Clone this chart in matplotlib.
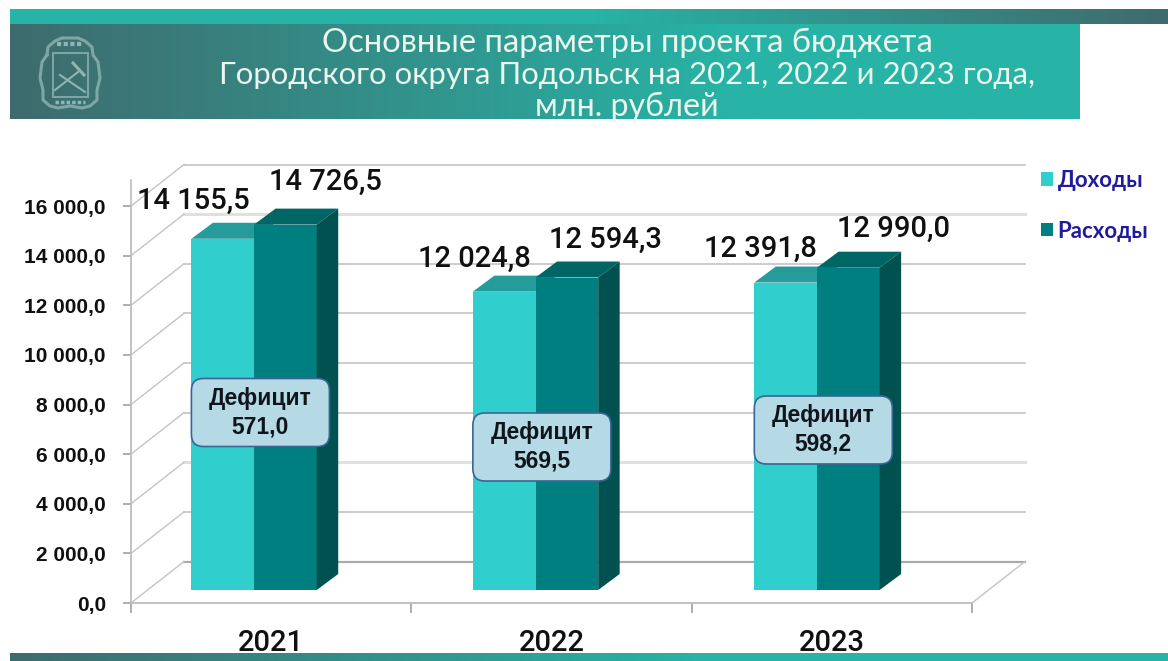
import numpy as np
import matplotlib
matplotlib.use("Agg")
import matplotlib.pyplot as plt
from matplotlib.patches import Polygon, FancyBboxPatch, Rectangle
from matplotlib.colors import LinearSegmentedColormap
from matplotlib.transforms import Affine2D

years = ["2021", "2022", "2023"]
income = [14155.5, 12024.8, 12391.8]
expense = [14726.5, 12594.3, 12990.0]
deficit = [571.0, 569.5, 598.2]
yticks = [0, 2000, 4000, 6000, 8000, 10000, 12000, 14000, 16000]
title_lines = ["Основные параметры проекта бюджета",
               "Городского округа Подольск на 2021, 2022 и 2023 года,",
               "млн. рублей"]

W, H = 1168, 661
fig = plt.figure(figsize=(W/100, H/100), dpi=100, facecolor="white")
bg = fig.add_axes([0, 0, 1, 1], zorder=0)
bg.set_xlim(0, W); bg.set_ylim(H, 0); bg.axis("off")

DARK, TEAL = "#3F6B6D", "#27B4A6"
def band(x0, x1, y0, y1, stops):
    cm = LinearSegmentedColormap.from_list("b", stops)
    bg.imshow(np.linspace(0, 1, 400)[None, :], cmap=cm, extent=(x0, x1, y1, y0), aspect="auto", zorder=1)
band(10, W, 10, 24.5, [(0, TEAL), (0.5, TEAL), (1, DARK)])
band(10, 1080, 24.5, 119.5, [(0, DARK), (0.68, TEAL), (1, TEAL)])
band(10, W, 653, 661, [(0, DARK), (0.6, TEAL), (1, TEAL)])
bg.set_xlim(0, W); bg.set_ylim(H, 0)

for line, y, fs in zip(title_lines, [43, 75, 107], [23.6, 22.4, 23.2]):
    bg.text(627, y, line, ha="center", va="center", fontsize=fs, family="Lato",
            color="#EAF6EE", zorder=3)

# emblem outline
EM = "#8FB5B2"
sx = [47, 42, 40, 43, 43, 50, 58, 70, 82, 90, 97, 97, 100, 98, 93, 92, 85, 78, 62, 55, 48, 47]
sy = [55, 62, 78, 90, 100, 106, 108, 106, 108, 106, 100, 90, 78, 62, 55, 47, 41, 38, 38, 41, 47, 55]
bg.plot(sx, sy, color=EM, lw=2.2, alpha=0.8, zorder=3)
bg.add_patch(Rectangle((53, 53), 35, 44, fc="none", ec=EM, lw=1.4, alpha=0.8, zorder=3))
bg.plot([55, 78], [90, 72], color=EM, lw=1.5, zorder=3)
bg.plot([60, 85], [75, 92], color=EM, lw=1.5, zorder=3)
bg.plot([73, 84], [63, 75], color=EM, lw=2.2, zorder=3)
bg.plot([57, 83], [44, 44], color=EM, lw=3, ls=(0, (1, 0.6)), zorder=3)
bg.plot([55, 85], [102, 102], color=EM, lw=2.5, ls=(0, (1, 0.6)), zorder=3)

ax = fig.add_axes([131/W, 1-603/H, 841/W, 397/H], zorder=1)
ax.patch.set_alpha(0)
ax.set_xlim(0, 3); ax.set_ylim(0, 16000)
PX = 3/841; PY = 16000/397
wall_dx, wall_dy = 53*PX, 41.5*PY
bar_x0, step, bw = 0.2155, 1.004, 0.2235
base = 13*PY
bdx, bdy = 21.5*PX, 16*PY

GRID = "#C4C4C4"
for v in yticks:
    col, lw = GRID, 1.2
    if v in (14000, 4000):
        col, lw = "#E0E0E0", 2.2
    if v == 0:
        col, lw = "#ABABAB", 1.6
    ax.plot([wall_dx, 3+wall_dx], [v+wall_dy, v+wall_dy], color=col, lw=lw, clip_on=False, zorder=1)
    ax.plot([0, wall_dx], [v, v+wall_dy], color=GRID, lw=1.0, clip_on=False, zorder=1)
ax.plot([3, 3+wall_dx], [0, wall_dy], color=GRID, lw=1.0, clip_on=False, zorder=1)
ax.plot([0, 0], [16000, 17050], color="#BDBDBD", lw=1.2, clip_on=False, zorder=1)

C1, C2 = "#30CFCE", "#007F80"
C1top, C2top, C2side = "#259C9B", "#006665", "#005150"
xs = np.arange(3)*step + bar_x0
ax.bar(xs, income, bw, bottom=base, align="edge", color=C1, zorder=3, label="Доходы")
ax.bar(xs+bw, expense, bw, bottom=base, align="edge", color=C2, zorder=4, label="Расходы")
for i in range(3):
    a, b = income[i]+base, expense[i]+base
    x = xs[i]
    ax.add_patch(Polygon([(x, a), (x+bdx, a+bdy), (x+bw+bdx, a+bdy), (x+bw, a)], fc=C1top, ec="none", zorder=3))
    ax.add_patch(Polygon([(x+bw, b), (x+bw+bdx, b+bdy), (x+2*bw+bdx, b+bdy), (x+2*bw, b)], fc=C2top, ec="none", zorder=5))
    ax.add_patch(Polygon([(x+2*bw, base), (x+2*bw+bdx, base+bdy), (x+2*bw+bdx, b+bdy), (x+2*bw, b)], fc=C2side, ec="none", zorder=5))

lab_kw = dict(ha="center", va="center", fontsize=21, family="Roboto", fontweight="medium", color="#101010", zorder=7, clip_on=False)
fmt = lambda v: f"{v:,.1f}".replace(",", " ").replace(".", ",")
inc_off = [(2, 38), (2, 33), (6, 34)]
exp_off = [(134, 43), (133, 38), (139, 39)]
for i in range(3):
    ax.text(xs[i]+inc_off[i][0]*PX, income[i]+base+inc_off[i][1]*PY, fmt(income[i]), **lab_kw)
    ax.text(xs[i]+exp_off[i][0]*PX, expense[i]+base+exp_off[i][1]*PY, fmt(expense[i]), **lab_kw)

# callouts
centers_y = [412.5, 447, 430]
to_data = Affine2D().scale(PX, PY) + ax.transData
for i in range(3):
    xl = xs[i]
    yc = (603 - centers_y[i]) * PY
    p = FancyBboxPatch((xl/PX, yc/PY-34), 138, 68, boxstyle="round,pad=0,rounding_size=12",
                       fc="#B5DAE6", ec="#3A6595", lw=1.2, zorder=8, transform=to_data)
    ax.add_patch(p)
    ax.text(xl+69*PX, yc, f"Дефицит\n{deficit[i]:.1f}".replace(".", ","), ha="center", va="center",
            fontsize=16.5, family="Liberation Sans", fontweight="bold", color="#10151C", linespacing=1.3, zorder=9)

ax.set_yticks(yticks)
ax.set_yticklabels([fmt(v) for v in yticks], fontsize=15, family="Liberation Sans", fontweight="bold", color="#101010")
ax.set_xticks([0, 1, 2, 3]); ax.set_xticklabels([])
ax.set_xticks([0.5, 1.5, 2.5], minor=True)
ax.set_xticklabels(years, minor=True, fontsize=21, family="Roboto", fontweight="medium", color="#101010")
ax.tick_params(axis="x", which="major", length=7, width=1.2, color="#A0A0A0")
ax.tick_params(axis="x", which="minor", length=0, pad=19)
ax.tick_params(axis="y", length=6, width=1.2, color="#A0A0A0", pad=12)
for s in ["top", "right"]:
    ax.spines[s].set_visible(False)
for s in ["left", "bottom"]:
    ax.spines[s].set_color("#BDBDBD"); ax.spines[s].set_linewidth(1.3)

leg = fig.legend(loc="upper left", bbox_to_anchor=(1041/W, 1-170/H), frameon=False, labelspacing=1.33,
                 handlelength=0.55, handleheight=0.55, handletextpad=0.2, borderpad=0, borderaxespad=0,
                 prop={"family": "Lato", "size": 16, "weight": "bold"}, labelcolor="#1F1A9E",
                 handles=ax.containers, labels=["Доходы", "Расходы"])
fig.savefig("out.png", dpi=100)
